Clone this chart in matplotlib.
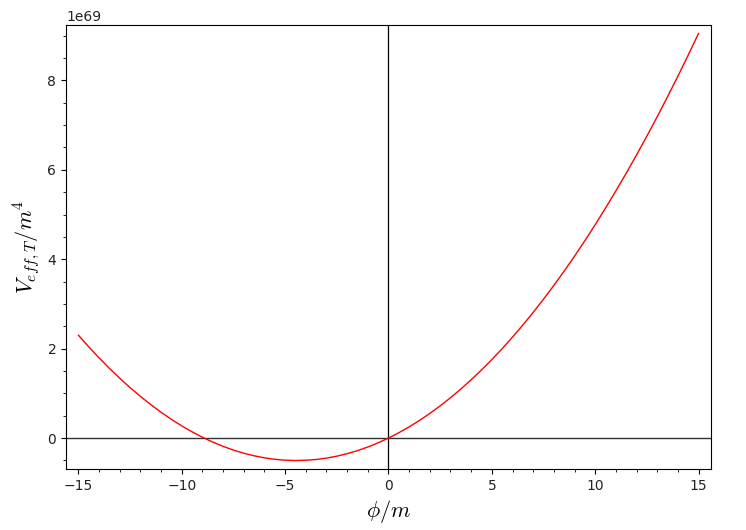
import matplotlib
matplotlib.use("Agg")
import matplotlib.pyplot as plt
from matplotlib.ticker import MultipleLocator
import numpy as np

phi = np.arange(-15, 15.01, 0.5)
V = [2.300, 2.040, 1.793, 1.559, 1.337, 1.128, 0.932, 0.748, 0.577, 0.418,
     0.272, 0.139, 0.018, -0.090, -0.186, -0.269, -0.339, -0.397, -0.442, -0.475,
     -0.495, -0.502, -0.496, -0.479, -0.448, -0.405, -0.349, -0.281, -0.200, -0.106,
     0.000, 0.119, 0.250, 0.394, 0.551, 0.720, 0.902, 1.096, 1.304, 1.523,
     1.756, 2.000, 2.258, 2.528, 2.811, 3.106, 3.414, 3.735, 4.068, 4.414,
     4.772, 5.143, 5.527, 5.923, 6.332, 6.753, 7.187, 7.634, 8.093, 8.565,
     9.050]
scale = 1e69

plt.rcParams['mathtext.fontset'] = 'cm'
fig = plt.figure(figsize=(7.46, 5.30), dpi=100)
ax = fig.add_axes([0.0885, 0.115, 0.8645, 0.838])
ax.plot(phi, np.array(V) * scale, color='red', lw=1.0)
ax.axhline(0, color='#333333', lw=1.0, zorder=1)
ax.axvline(0, color='black', lw=0.9, zorder=1)
ax.margins(0.02)
ax.xaxis.set_minor_locator(MultipleLocator(1))
ax.yaxis.set_minor_locator(MultipleLocator(0.5 * scale))
ax.set_xticks([-15, -10, -5, 0, 5, 10, 15])
ax.tick_params(labelcolor='#222222')
ax.set_xlabel(r'$\phi/m$', fontsize=16)
ax.set_ylabel(r'$V_{eff,T}/m^4$', fontsize=16)
fig.savefig('out.png', dpi=100)
